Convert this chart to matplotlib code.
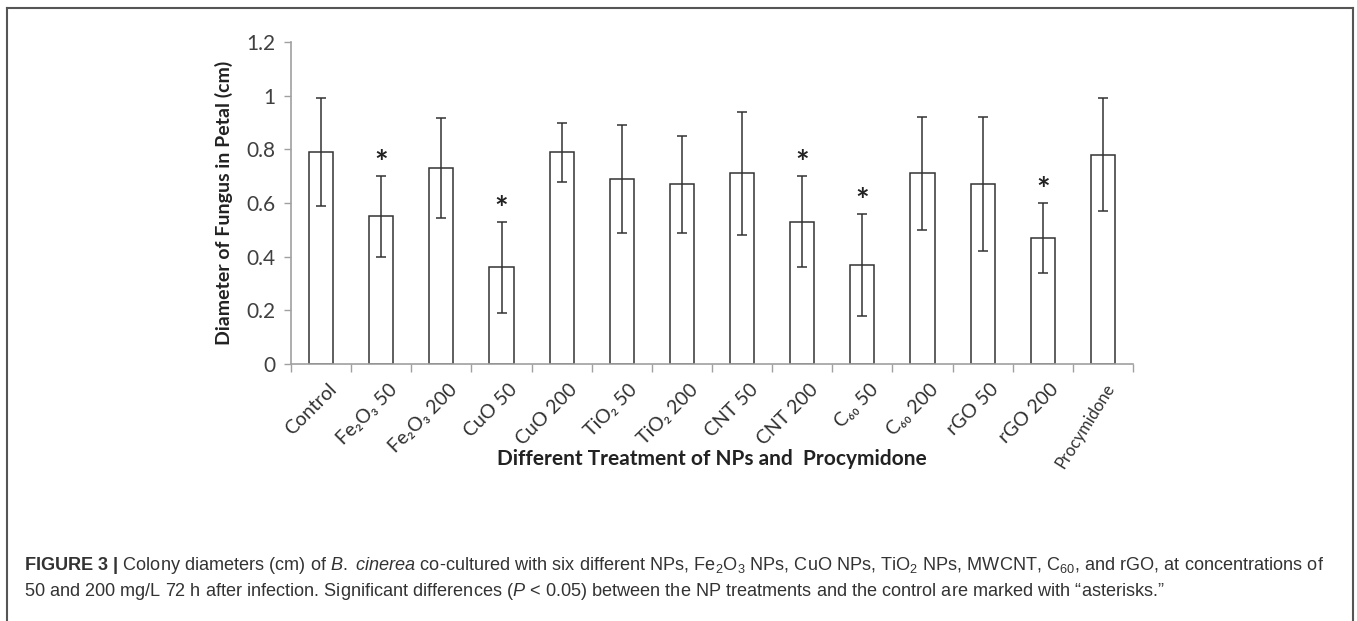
import matplotlib
matplotlib.use("Agg")
import matplotlib.pyplot as plt
from matplotlib.lines import Line2D
import numpy as np

categories = ["Control", "Fe₂O₃ 50", "Fe₂O₃ 200", "CuO 50", "CuO 200", "TiO₂ 50",
              "TiO₂ 200", "CNT 50", "CNT 200", "C₆₀ 50", "C₆₀ 200", "rGO 50",
              "rGO 200", "Procymidone"]
means = [0.79, 0.55, 0.73, 0.36, 0.79, 0.69, 0.67, 0.71, 0.53, 0.37, 0.71, 0.67, 0.47, 0.78]
errors = [0.20, 0.15, 0.185, 0.17, 0.11, 0.20, 0.18, 0.23, 0.17, 0.19, 0.21, 0.25, 0.13, 0.21]
significant = [False, True, False, True, False, False, False, False, True, True, False, False, True, False]
yticks = [0, 0.2, 0.4, 0.6, 0.8, 1.0, 1.2]
ytick_labels = ["0", "0.2", "0.4", "0.6", "0.8", "1", "1.2"]

plt.rcParams['mathtext.fontset'] = 'custom'
plt.rcParams['mathtext.rm'] = 'Liberation Sans'
plt.rcParams['mathtext.it'] = 'Liberation Sans:italic'
plt.rcParams['mathtext.bf'] = 'Liberation Sans:bold'

W, H = 1357, 621
fig = plt.figure(figsize=(W / 100, H / 100), dpi=100)
ax = fig.add_axes([291 / W, 1 - 364 / H, (1133 - 291) / W, (364 - 42) / H])

x = np.arange(len(categories))
ax.bar(x, means, width=0.4, color="white", edgecolor="#333333", linewidth=1.1, zorder=2)
ax.errorbar(x, means, yerr=errors, fmt="none", ecolor="#333333", elinewidth=1.1,
            capsize=3.5, capthick=1.1, zorder=3)
for xi, m, e, s in zip(x, means, errors, significant):
    if s:
        ax.annotate("*", (xi, m + e), xytext=(0, -2), textcoords="offset points",
                    ha="center", va="bottom", fontsize=23, fontweight="bold",
                    family=["Lato", "DejaVu Sans"], color="#222222")

ax.set_xlim(-0.5, len(categories) - 0.5)
ax.set_ylim(0, 1.2)
ax.set_yticks(yticks)
ax.set_yticklabels(ytick_labels, family=["Lato", "DejaVu Sans"], fontsize=15, color="#404040")
ax.set_xticks(np.arange(len(categories) + 1) - 0.5)
ax.set_xticklabels([])
ax.tick_params(axis="x", direction="out", length=6, color="#a0a0a0", width=1)
ax.tick_params(axis="y", direction="out", length=5, color="#a0a0a0", width=1, pad=6)
for sp in ["top", "right"]:
    ax.spines[sp].set_visible(False)
for sp in ["left", "bottom"]:
    ax.spines[sp].set_color("#a0a0a0")
    ax.spines[sp].set_linewidth(1.2)

for xi, lab in zip(x, categories):
    small = lab == categories[-1]
    ax.annotate(lab, (xi, 0), xycoords=("data", "axes fraction"),
                xytext=(1 if small else 5, -12),
                textcoords="offset points", rotation=58 if small else 45,
                rotation_mode="anchor", ha="right", va="top",
                fontsize=12 if small else 14, family=["Lato", "DejaVu Sans"],
                color="#303030")

ax.set_ylabel("Diameter of Fungus in Petal (cm)", fontsize=14, fontweight="bold",
              family=["Lato", "DejaVu Sans"], color="#222222", labelpad=10)

fig.text(712 / W, 1 - 459 / H, "Different Treatment of NPs and  Procymidone",
         ha="center", va="center", fontsize=15, fontweight="bold",
         family=["Lato", "DejaVu Sans"], color="#222222")

# figure frame (open at bottom)
fc = "#555555"
fig.add_artist(Line2D([7 / W, 7 / W], [0, 1 - 8 / H], transform=fig.transFigure, color=fc, lw=1.5))
fig.add_artist(Line2D([7 / W, 1353 / W], [1 - 8 / H, 1 - 8 / H], transform=fig.transFigure, color=fc, lw=1.5))
fig.add_artist(Line2D([1353 / W, 1353 / W], [0, 1 - 8 / H], transform=fig.transFigure, color=fc, lw=1.5))

line1 = (r"$\bf{FIGURE\ 3\ |}$ Colony diameters (cm) of $\it{B.\ cinerea}$ co-cultured with six different NPs, "
         r"Fe$_2$O$_3$ NPs, CuO NPs, TiO$_2$ NPs, MWCNT, C$_{60}$, and rGO, at concentrations of")
line2 = (r"50 and 200 mg/L 72 h after infection. Significant differences ($\it{P}$ < 0.05) between the NP "
         r"treatments and the control are marked with “asterisks.”")
fig.text(24 / W, 1 - 566 / H, line1, ha="left", va="center", fontsize=13.1,
         family="Liberation Sans", color="#333333")
fig.text(24 / W, 1 - 591 / H, line2, ha="left", va="center", fontsize=13.1,
         family="Liberation Sans", color="#333333")

fig.savefig("out.png", dpi=100)
